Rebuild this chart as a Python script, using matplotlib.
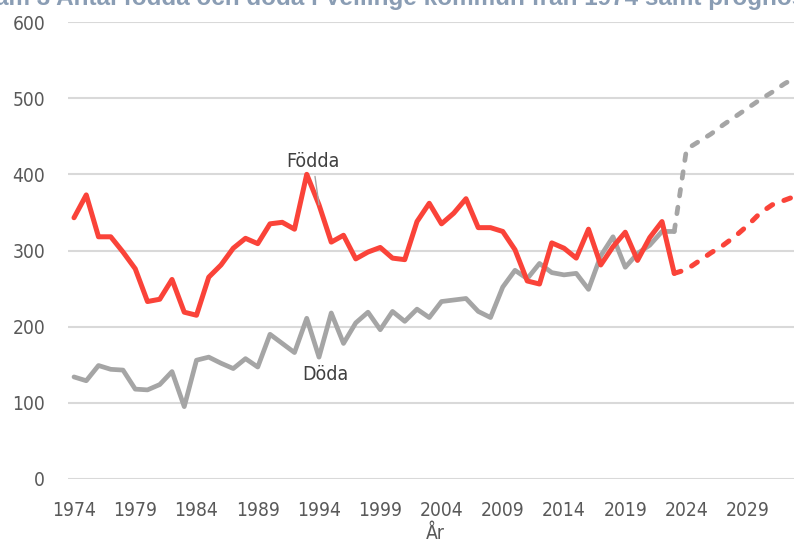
import numpy as np
import matplotlib.pyplot as plt

# Observed values 1974-2023
years = np.arange(1974, 2024)
births = [343, 373, 318, 318, 298, 276, 233, 236, 262, 219,
          215, 265, 281, 303, 316, 309, 335, 337, 328, 400,
          360, 311, 320, 289, 298, 304, 290, 288, 338, 362,
          335, 349, 368, 330, 330, 325, 301, 260, 256, 310,
          303, 290, 328, 281, 305, 324, 287, 317, 338, 270]
deaths = [134, 129, 149, 144, 143, 118, 117, 124, 141, 95,
          156, 160, 152, 145, 158, 147, 190, 178, 166, 211,
          160, 218, 178, 205, 219, 196, 220, 207, 223, 212,
          233, 235, 237, 220, 212, 252, 274, 263, 283, 271,
          268, 270, 249, 293, 318, 278, 296, 307, 325, 325]

# Forecast 2023-2033
fc_years = np.arange(2023, 2034)
fc_births = [270, 275, 286, 297, 307, 319, 333, 349, 360, 366, 372]
fc_deaths = [325, 433, 443, 453, 465, 476, 487, 498, 508, 519, 528]

xticks = np.arange(1974, 2030, 5)

plt.rcParams['font.family'] = ['DejaVu Sans']
plt.rcParams['font.stretch'] = 'condensed'

red = '#FA4339'
grey = '#A5A5A5'
txt = '#595959'

fig = plt.figure(figsize=(7.94, 5.42), dpi=100)
ax = fig.add_axes([68 / 794, 1 - 479 / 542, 1 - 68 / 794, (479 - 22) / 542])

ax.plot(years, births, color=red, lw=3.6, solid_joinstyle='round', solid_capstyle='round', zorder=3)
ax.plot(years, deaths, color=grey, lw=3.4, solid_joinstyle='round', solid_capstyle='round', zorder=2)
ax.plot(fc_years, fc_births, color=red, lw=3.6, dashes=(1.4, 2.4), dash_capstyle='round', zorder=3)
ax.plot(fc_years, fc_deaths, color=grey, lw=3.4, dashes=(1.4, 2.4), dash_capstyle='round', zorder=2)

ax.annotate('Födda', xy=(1994, births[20]), xytext=(1993.5, 417), ha='center', va='center',
            fontsize=14, color='#404040',
            arrowprops=dict(arrowstyle='-', color=grey, lw=1, shrinkA=2, shrinkB=0))
ax.text(1994.5, 137, 'Döda', ha='center', va='center', fontsize=14, color='#404040')

ax.set_xlim(1974 - 6 / 12.25, 1974 + 720 / 12.25)
ax.set_ylim(0, 600)
ax.set_yticks(range(0, 601, 100))
ax.set_xticks(xticks)
ax.grid(axis='y', color='#D9D9D9', lw=1.5)
ax.set_axisbelow(True)
for s in ax.spines.values():
    s.set_visible(False)
ax.tick_params(axis='both', length=0, labelsize=13.8, labelcolor=txt)
ax.tick_params(axis='y', pad=16.5)
ax.tick_params(axis='x', pad=16)
ax.set_xlabel('År', fontsize=13.8, color=txt)
ax.xaxis.set_label_coords((435 - 68) / 726, -0.098)

fig.text(0.465, 1 - 5 / 542, 'Diagram 3 Antal födda och döda i Vellinge kommun från 1974 samt prognos',
         ha='center', va='baseline', fontsize=17.5, fontweight='bold', color='#8A9DB4',
         family='Liberation Sans', stretch='normal')

fig.savefig('out.png', dpi=100)
